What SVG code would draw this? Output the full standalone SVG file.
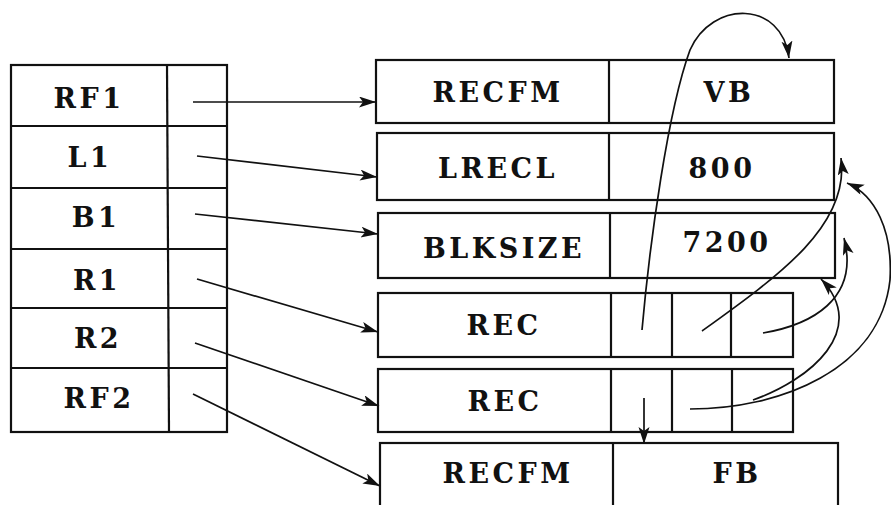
<svg xmlns="http://www.w3.org/2000/svg" width="891" height="505" viewBox="0 0 891 505">
<style>
.box{fill:none;stroke:#111;stroke-width:2.2}
.t{font-family:"DejaVu Serif","Liberation Serif",serif;font-weight:bold;font-size:27px;fill:#111;text-anchor:middle;letter-spacing:3.5px}
.c{fill:none;stroke:#111;stroke-width:1.7;marker-end:url(#ah)}
</style>
<defs>
<marker id="ah" markerUnits="userSpaceOnUse" markerWidth="20" markerHeight="12" refX="17" refY="5.5" orient="auto">
<path d="M0,0 L17,5.5 L0,11 L4,5.5 z" fill="#111"/>
</marker>
</defs>
<rect width="891" height="505" fill="#fff"/>
<g id="table">
<rect class="box" x="11" y="65" width="216" height="367"/>
<line class="box" x1="167" y1="65" x2="169" y2="432"/>
<line class="box" x1="11" y1="126" x2="227" y2="126"/>
<line class="box" x1="11" y1="188" x2="227" y2="188"/>
<line class="box" x1="11" y1="249" x2="227" y2="249"/>
<line class="box" x1="11" y1="308" x2="227" y2="308"/>
<line class="box" x1="11" y1="368" x2="227" y2="368"/>
</g>
<g id="rf1"><text class="t" x="89" y="108">RF1</text></g>
<g id="l1"><text class="t" x="90" y="167">L1</text></g>
<g id="b1"><text class="t" x="96" y="227">B1</text></g>
<g id="r1"><text class="t" x="97" y="290">R1</text></g>
<g id="r2"><text class="t" x="98" y="348">R2</text></g>
<g id="rf2"><text class="t" x="99" y="408">RF2</text></g>
<g id="box-recfm1">
<rect class="box" x="376" y="60" width="458" height="63"/>
<line class="box" x1="609" y1="60" x2="609" y2="123"/>
<text class="t" x="498" y="102">RECFM</text>
<text class="t" x="729" y="102">VB</text>
</g>
<g id="box-lrecl">
<rect class="box" x="377" y="133" width="457" height="67"/>
<line class="box" x1="609" y1="133" x2="609" y2="200"/>
<text class="t" x="498" y="178">LRECL</text>
<text class="t" x="722" y="178">800</text>
</g>
<g id="box-blksize">
<rect class="box" x="378" y="213" width="457" height="65"/>
<line class="box" x1="610" y1="213" x2="610" y2="278"/>
<text class="t" x="504" y="258">BLKSIZE</text>
<text class="t" x="727" y="252">7200</text>
</g>
<g id="box-rec1">
<rect class="box" x="378" y="293" width="415" height="64"/>
<line class="box" x1="611" y1="293" x2="611" y2="357"/>
<line class="box" x1="672" y1="293" x2="672" y2="357"/>
<line class="box" x1="731" y1="293" x2="731" y2="357"/>
<text class="t" x="504" y="335">REC</text>
</g>
<g id="box-rec2">
<rect class="box" x="378" y="369" width="415" height="63"/>
<line class="box" x1="611" y1="369" x2="611" y2="432"/>
<line class="box" x1="672" y1="369" x2="672" y2="432"/>
<line class="box" x1="732" y1="369" x2="732" y2="432"/>
<text class="t" x="505" y="411">REC</text>
</g>
<g id="box-recfm2">
<rect class="box" x="380" y="443" width="458" height="80"/>
<line class="box" x1="613" y1="443" x2="613" y2="523"/>
<text class="t" x="508" y="483">RECFM</text>
<text class="t" x="737" y="483">FB</text>
</g>
<g id="connectors">
<line class="c" x1="193" y1="102" x2="376" y2="102"/>
<line class="c" x1="197" y1="156" x2="377" y2="177"/>
<line class="c" x1="195" y1="214" x2="378" y2="234"/>
<line class="c" x1="197" y1="279" x2="378" y2="332"/>
<line class="c" x1="195" y1="343" x2="379" y2="406"/>
<line class="c" x1="193" y1="394" x2="380" y2="486"/>
<path class="c" d="M642,330 C650,240 668,110 690,50 C712,0 782,0 789,58"/>
<path class="c" d="M702,331 C780,275 850,225 841,158"/>
<path class="c" d="M763,333 C810,325 860,300 844,238"/>
<path class="c" d="M690,409 C780,409 880,370 890,280 C893,230 875,195 847,183"/>
<path class="c" d="M753,400 C810,380 870,330 821,279"/>
<line class="c" x1="644" y1="398" x2="644" y2="444"/>
</g>
</svg>
